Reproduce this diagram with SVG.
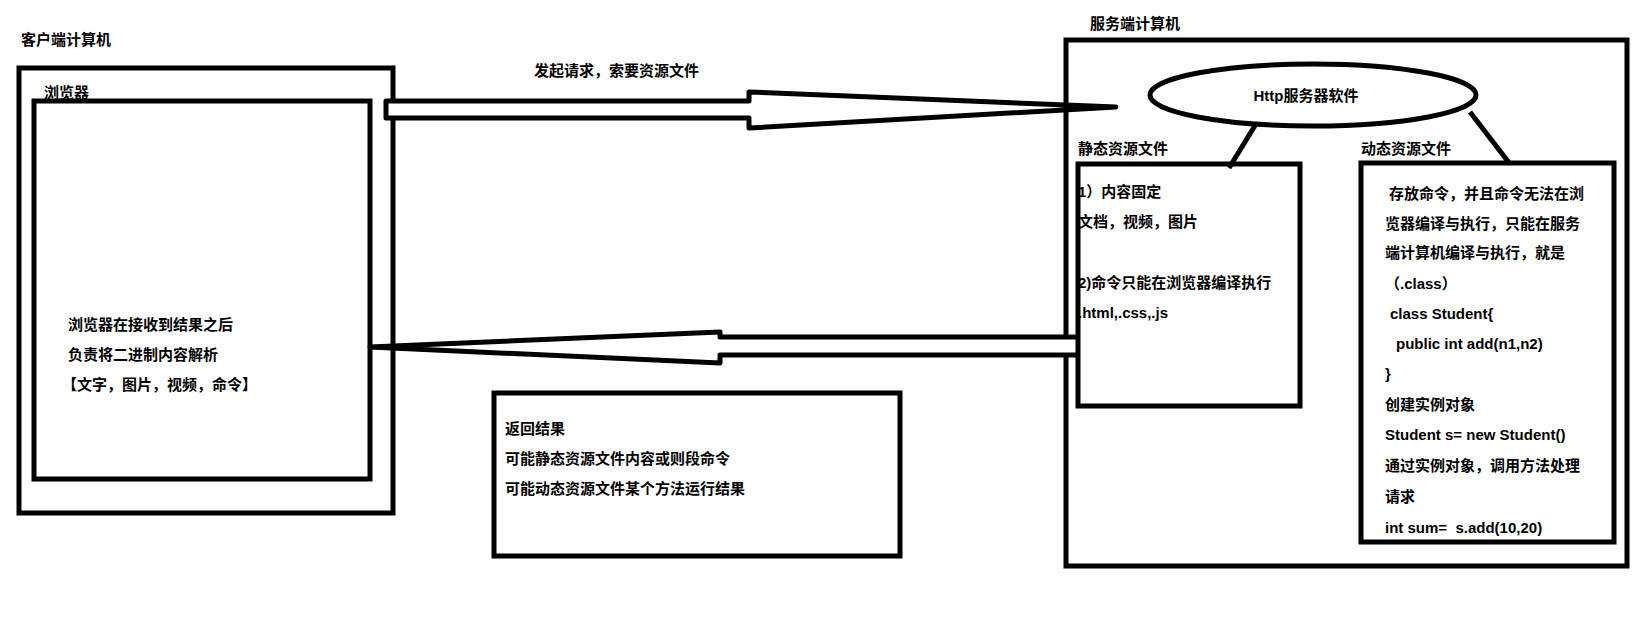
<svg xmlns="http://www.w3.org/2000/svg" width="1635" height="643" viewBox="0 0 1635 643">
<style>
text{font-family:"Liberation Sans","Noto Sans CJK SC",sans-serif;font-size:15px;font-weight:bold;fill:#000;dominant-baseline:central;white-space:pre}
.b{fill:none;stroke:#000;stroke-width:5}
.a{fill:#fff;stroke:#000;stroke-width:5;stroke-linejoin:round}
</style>
<rect width="1635" height="643" fill="#fff"/>
<g id="client">
<text x="21" y="39">客户端计算机</text>
<rect class="b" x="19" y="68" width="374" height="445"/>
<text x="44" y="92">浏览器</text>
</g>
<g id="browser">
<rect class="b" x="34" y="101" width="336" height="378"/>
<text x="68" y="324">浏览器在接收到结果之后</text>
<text x="68" y="354">负责将二进制内容解析</text>
<text x="62" y="384">【文字，图片，视频，命令】</text>
</g>
<g id="server">
<text x="1090" y="23">服务端计算机</text>
<rect class="b" x="1066" y="40" width="561" height="526"/>
</g>
<g id="connectors">
<path class="a" d="M386 101 H749 V92 L1116 107 L749 128 V118 H386 Z"/>
<path class="a" d="M1076 337 H720 V332 L370 347 L720 363 V355 H1076"/>
<line class="b" x1="1256" y1="124" x2="1229" y2="168"/>
<line class="b" x1="1470" y1="112" x2="1510" y2="164"/>
</g>
<g id="http">
<ellipse class="a" cx="1313" cy="95" rx="163" ry="31"/>
<text x="1306" y="95" text-anchor="middle">Http服务器软件</text>
</g>
<g id="static">
<text x="1078" y="148">静态资源文件</text>
<rect class="b" x="1078" y="164" width="222" height="242"/>
<text x="1078" y="191">1）内容固定</text>
<text x="1078" y="221">文档，视频，图片</text>
<text x="1078" y="282">2)命令只能在浏览器编译执行</text>
<text x="1078" y="312">.html,.css,.js</text>
</g>
<g id="dynamic">
<text x="1361" y="148">动态资源文件</text>
<rect class="b" x="1361" y="163" width="253" height="379"/>
<text x="1389" y="193">存放命令，并且命令无法在浏</text>
<text x="1385" y="223">览器编译与执行，只能在服务</text>
<text x="1385" y="252">端计算机编译与执行，就是</text>
<text x="1385" y="283">（.class）</text>
<text x="1390" y="313">class Student{</text>
<text x="1396" y="343">public int add(n1,n2)</text>
<text x="1385" y="373">}</text>
<text x="1385" y="404">创建实例对象</text>
<text x="1385" y="434">Student s= new Student()</text>
<text x="1385" y="465">通过实例对象，调用方法处理</text>
<text x="1385" y="496">请求</text>
<text x="1385" y="527" xml:space="preserve">int sum=  s.add(10,20)</text>
</g>
<g id="request-label"><text x="534" y="70">发起请求，索要资源文件</text></g>
<g id="result">
<rect class="b" x="494" y="393" width="406" height="163"/>
<text x="505" y="428">返回结果</text>
<text x="505" y="458">可能静态资源文件内容或则段命令</text>
<text x="505" y="488">可能动态资源文件某个方法运行结果</text>
</g>
</svg>
